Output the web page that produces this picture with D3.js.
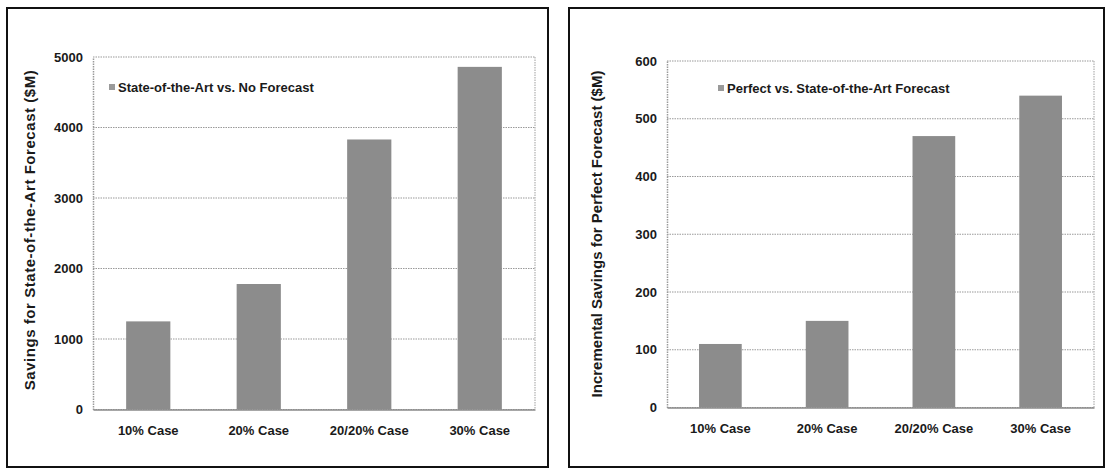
<!DOCTYPE html>
<html>
<head>
<meta charset="utf-8">
<script src="https://cdn.jsdelivr.net/npm/d3@7"></script>
<style>
  html, body { margin: 0; padding: 0; background: #fff; }
  svg { display: block; }
  text { font-family: "Liberation Sans", Arial, sans-serif; font-weight: bold; fill: #1a1a1a; }
</style>
</head>
<body>
<svg id="chart" width="1109" height="476"></svg>
<script>
const categories = ["10% Case", "20% Case", "20/20% Case", "30% Case"];

const leftValues = [1250, 1780, 3830, 4860];
const leftTicks = [0, 1000, 2000, 3000, 4000, 5000];
const leftLegend = "State-of-the-Art vs. No Forecast";
const leftYTitle = "Savings for State-of-the-Art Forecast ($M)";

const rightValues = [110, 150, 470, 540];
const rightTicks = [0, 100, 200, 300, 400, 500, 600];
const rightLegend = "Perfect vs. State-of-the-Art Forecast";
const rightYTitle = "Incremental Savings for Perfect Forecast ($M)";

const svg = d3.select("#chart");

function panel(cfg) {
  const g = svg.append("g");
  g.append("rect")
    .attr("x", cfg.frame[0]).attr("y", cfg.frame[1])
    .attr("width", cfg.frame[2]).attr("height", cfg.frame[3])
    .attr("fill", "#fff").attr("stroke", "#111").attr("stroke-width", 2);

  const x = d3.scaleBand().domain(categories)
    .range([cfg.plot.x0, cfg.plot.x1]).paddingInner(0.6).paddingOuter(0.3);
  const y = d3.scaleLinear().domain([0, cfg.max]).range([cfg.plot.y0, cfg.plot.y1]);

  g.append("g").selectAll("line").data(cfg.ticks).join("line")
    .attr("x1", cfg.plot.x0).attr("x2", cfg.plot.x1)
    .attr("y1", d => y(d)).attr("y2", d => y(d))
    .attr("stroke", "#9a9a9a").attr("stroke-width", 1.2)
    .attr("stroke-dasharray", "1.5,1");
  g.append("line")
    .attr("x1", cfg.plot.x1).attr("x2", cfg.plot.x1)
    .attr("y1", y(cfg.max)).attr("y2", y(0))
    .attr("stroke", "#b0b0b0").attr("stroke-width", 1.2).attr("stroke-dasharray", "1.5,1");

  g.append("g").selectAll("rect").data(cfg.values).join("rect")
    .attr("x", (d, i) => x(categories[i]))
    .attr("width", x.bandwidth())
    .attr("y", d => y(d))
    .attr("height", d => y(0) - y(d))
    .attr("fill", "#8c8c8c");

  const yAxis = d3.axisLeft(y).tickValues(cfg.ticks).tickSize(0).tickPadding(10).tickFormat(d3.format("d"));
  const ya = g.append("g").attr("transform", `translate(${cfg.plot.x0},0)`).call(yAxis);
  ya.select(".domain").attr("stroke", "#9a9a9a").attr("stroke-width", 1.5).attr("stroke-dasharray", "1.5,1");
  ya.selectAll("text").attr("font-size", 13).style("font-family", "Liberation Sans, Arial, sans-serif").style("font-weight", "bold").attr("fill", "#1a1a1a");

  const xAxis = d3.axisBottom(x).tickSize(0).tickPadding(16);
  const xa = g.append("g").attr("transform", `translate(0,${cfg.plot.y0})`).call(xAxis);
  xa.select(".domain").attr("stroke", "#8a8a8a").attr("stroke-width", 1.5);
  xa.selectAll("text").attr("font-size", 13).style("font-family", "Liberation Sans, Arial, sans-serif").style("font-weight", "bold").attr("fill", "#1a1a1a");

  g.append("text")
    .attr("transform", `translate(${cfg.titleX},${cfg.titleY}) rotate(-90)`)
    .attr("text-anchor", "middle")
    .attr("font-size", 15)
    .attr("letter-spacing", cfg.titleSpacing)
    .text(cfg.yTitle);

  g.append("rect")
    .attr("x", cfg.legend[0]).attr("y", cfg.legend[1] - 4)
    .attr("width", 6).attr("height", 6).attr("fill", "#9a9a9a");
  g.append("text")
    .attr("x", cfg.legend[0] + 9).attr("y", cfg.legend[1] + 4)
    .attr("font-size", 13)
    .text(cfg.legendText);
}

panel({
  frame: [7, 8, 541, 459],
  plot: { x0: 93, x1: 535, y0: 409.5, y1: 57 },
  max: 5000, ticks: leftTicks, values: leftValues,
  yTitle: leftYTitle, titleX: 34.5, titleY: 230, titleSpacing: 0.55,
  legend: [109, 88], legendText: leftLegend
});

panel({
  frame: [569, 8, 535, 459],
  plot: { x0: 667, x1: 1094, y0: 407.5, y1: 61 },
  max: 600, ticks: rightTicks, values: rightValues,
  yTitle: rightYTitle, titleX: 602, titleY: 234, titleSpacing: 0,
  legend: [718, 89], legendText: rightLegend
});
</script>
</body>
</html>
